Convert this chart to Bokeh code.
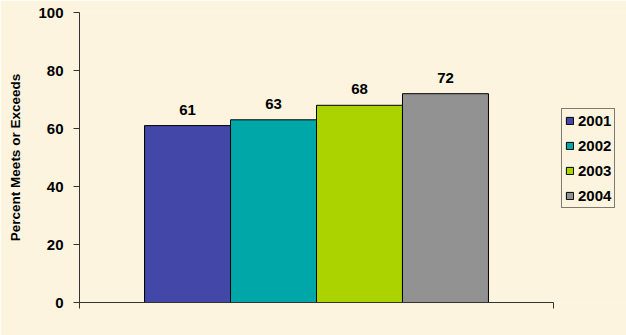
from bokeh.plotting import figure
from bokeh.models import Range1d, FixedTicker, Legend, LegendItem, ColumnDataSource
from bokeh.core.properties import value
from bokeh.embed import file_html
from bokeh.resources import INLINE

years = ["2001", "2002", "2003", "2004"]
percent = [61, 63, 68, 72]
colors = ["#4347A7", "#00A7A8", "#ABD300", "#929292"]
y_ticks = [0, 20, 40, 60, 80, 100]

BG = "#FCF4DF"
FONT = "Liberation Sans"

bar_w = 0.1814
n = len(years)
xs = [0.5 + (i - (n - 1) / 2) * bar_w for i in range(n)]

# frame spans to the right edge so the legend can sit inside it; the axis is bounded to [0, 1]
p = figure(width=626, height=335, output_backend="svg", toolbar_location=None,
           x_range=Range1d(0, 547 / 474), y_range=Range1d(0, 100),
           min_border_left=79, min_border_right=0, min_border_top=12, min_border_bottom=33)
p.background_fill_color = BG
p.border_fill_color = BG
p.outline_line_color = None
p.grid.grid_line_color = None

src = ColumnDataSource(dict(x=xs, top=percent, lab=[str(v) for v in percent]))
renderers = []
for i in range(n):
    r = p.vbar(x=xs[i], top=percent[i], bottom=0, width=bar_w, fill_color=colors[i],
               line_color="black", line_width=1)
    renderers.append(r)

p.text(x="x", y="top", text="lab", source=src, text_align="center", text_baseline="middle",
       y_offset=-16, text_font=value(FONT), text_font_style="bold", text_font_size="15px",
       text_color="black")

# axes
ya = p.yaxis[0]
ya.ticker = FixedTicker(ticks=y_ticks)
ya.major_tick_out = 6
ya.major_tick_in = 0
ya.minor_tick_out = 0
ya.minor_tick_in = 0
ya.axis_line_color = "#333333"
ya.major_tick_line_color = "#333333"
ya.major_label_text_font = FONT
ya.major_label_text_font_style = "bold"
ya.major_label_text_font_size = "15px"
ya.major_label_text_color = "black"
ya.major_label_standoff = 10
ya.axis_label = "Percent Meets or Exceeds"
ya.axis_label_text_font = FONT
ya.axis_label_text_font_style = "bold"
ya.axis_label_text_font_size = "13.5px"
ya.axis_label_text_color = "black"
ya.axis_label_standoff = 12

xa = p.xaxis[0]
xa.ticker = FixedTicker(ticks=[0, 1])
xa.bounds = (0, 1)
xa.major_label_overrides = {0: "", 1: ""}
xa.major_tick_out = 6
xa.major_tick_in = 0
xa.minor_tick_out = 0
xa.minor_tick_in = 0
xa.axis_line_color = "#333333"
xa.major_tick_line_color = "#333333"
xa.major_label_text_font_size = "1px"

items = [LegendItem(label=years[i], renderers=[renderers[i]]) for i in range(n)]
legend = Legend(items=items, location=(482, 94))
legend.background_fill_color = BG
legend.background_fill_alpha = 1
legend.border_line_color = "black"
legend.border_line_width = 1
legend.label_text_font = FONT
legend.label_text_font_style = "bold"
legend.label_text_font_size = "15px"
legend.label_text_color = "black"
legend.glyph_width = 9
legend.glyph_height = 9
legend.label_height = 14
legend.label_standoff = 4
legend.spacing = 8
legend.padding = 3
legend.margin = 0
p.add_layout(legend, "center")

open("out.html", "w").write(file_html(p, INLINE))
